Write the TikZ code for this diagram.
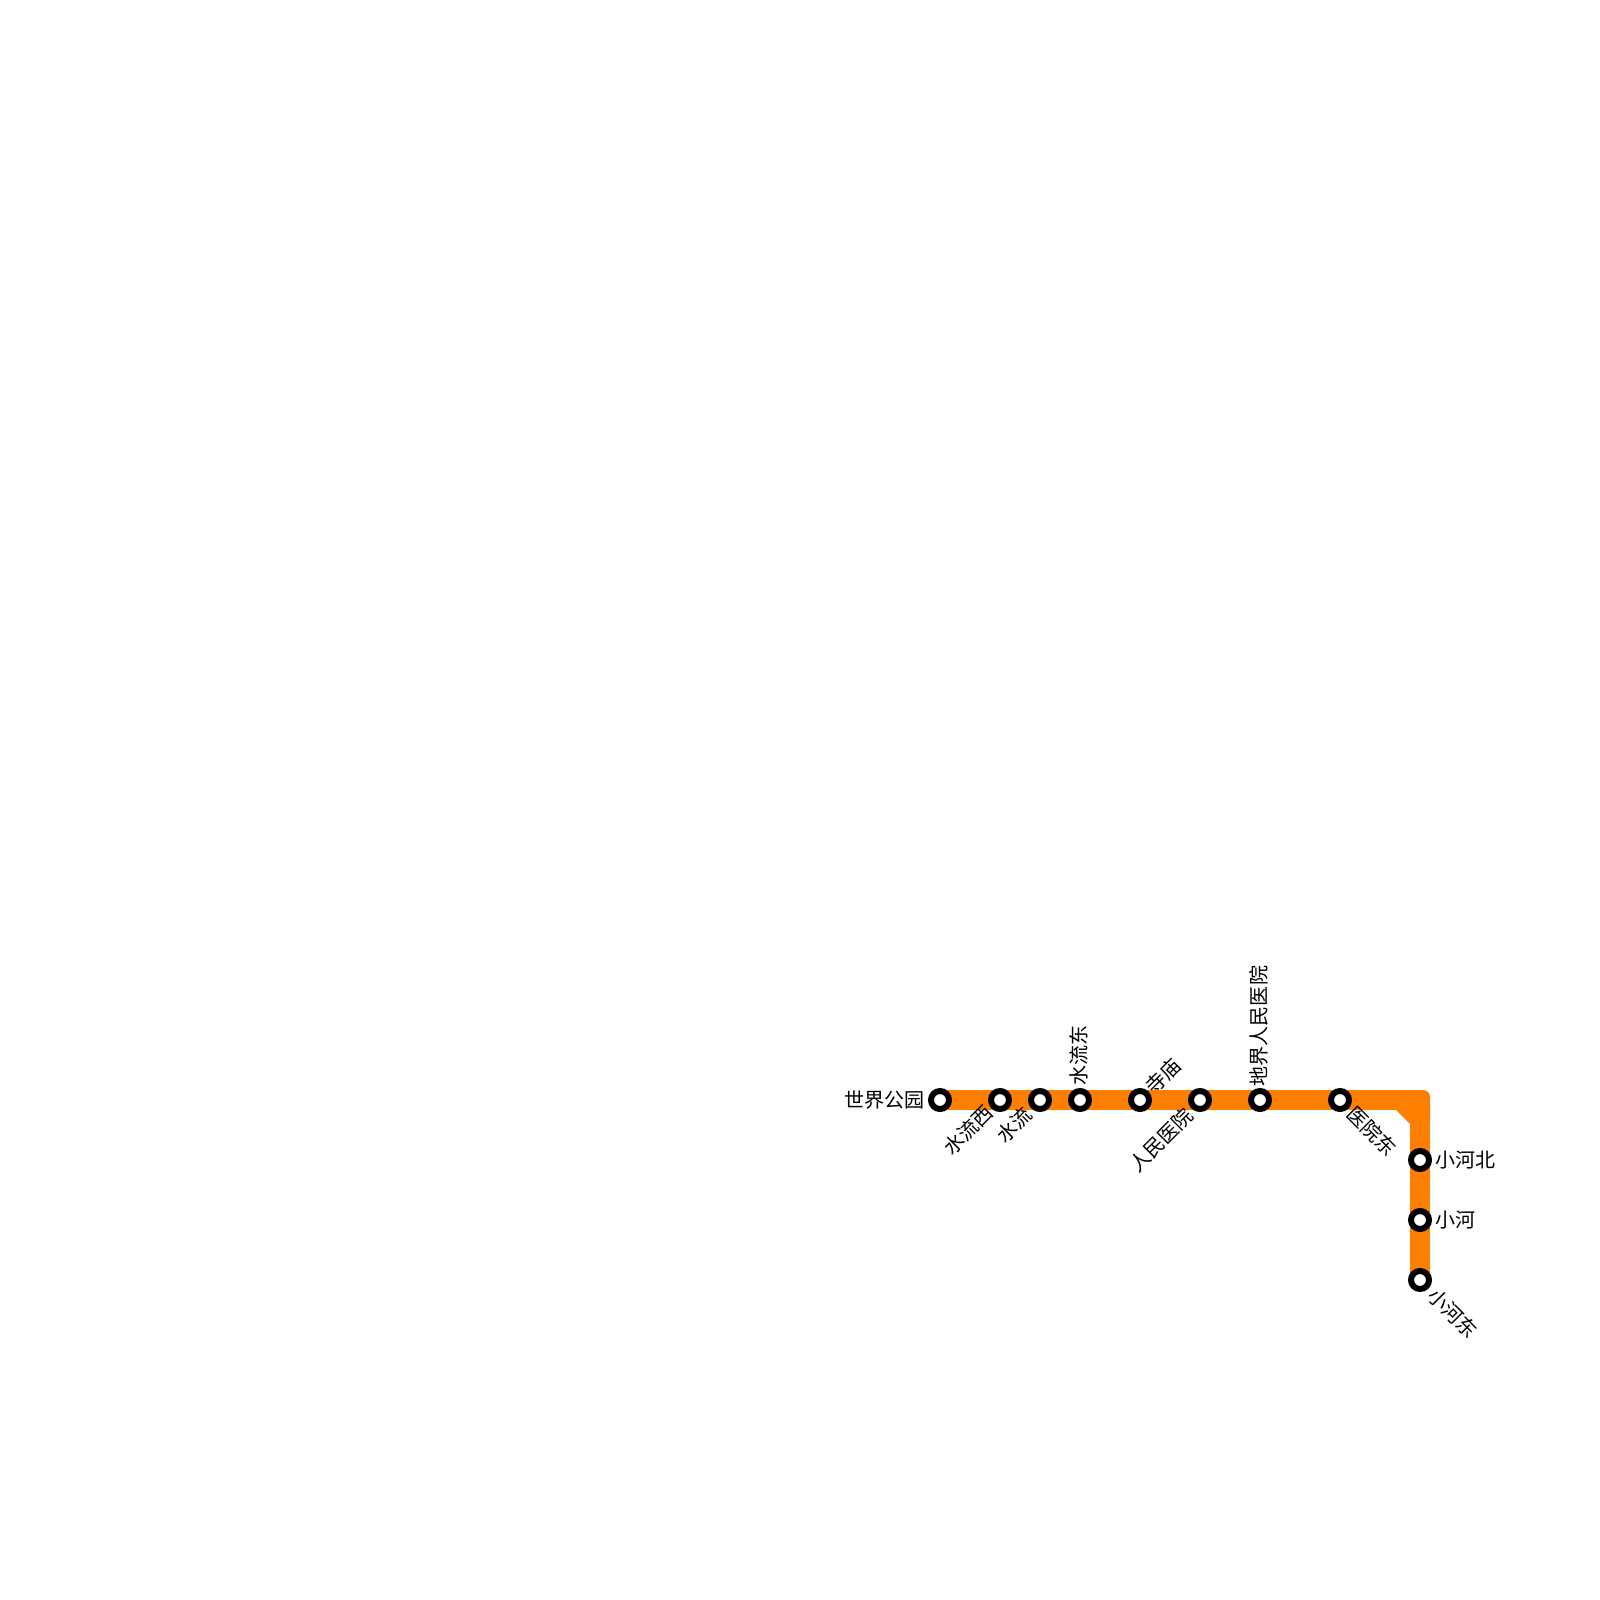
\documentclass[tikz,border=0pt]{standalone}
\usepackage{fontspec}
\usetikzlibrary{backgrounds}
\newfontfamily\cjk{Noto Sans CJK SC}
\newcommand{\halt}[2]{\node[haltmark] (#1) at (#2) {};}
\newcommand{\haltname}[4]{\node[haltlabel,#2] (#1) at (#3) {#4};}

\begin{document}
\begin{tikzpicture}[
      x=0.01cm,y=-0.01cm,
      linepath/.style={line width=0.2cm,draw=lineorange,line join=round},
      linecorner/.style={fill=lineorange},
      haltmark/.style={circle,draw=black,fill=white,line width=0.06cm,minimum size=0.18cm,inner sep=0pt},
      haltlabel/.style={font=\cjk\fontsize{5.69pt}{6pt}\selectfont,inner sep=0pt,text=black}
      ]
      \definecolor{lineorange}{HTML}{FF7F00}
      \useasboundingbox (0,0) rectangle (1600,1600);

      % The halts, left to right along the top, then down the right side
      \halt{shijie}{940,1100}
      \halt{shuixi}{1000,1100}
      \halt{shuiliu}{1040,1100}
      \halt{shuidong}{1080,1100}
      \halt{simiao}{1140,1100}
      \halt{renmin}{1200,1100}
      \halt{dijie}{1260,1100}
      \halt{yidong}{1340,1100}
      \halt{hebei}{1420,1160}
      \halt{xiaohe}{1420,1220}
      \halt{hedong}{1420,1280}
      \coordinate (bend) at (1420,1100);

      % The line goes behind the halts; the second path squares off the bend
      \begin{scope}[on background layer]
        \draw[linepath] (shijie.center) -- (shuixi.center) -- (shuiliu.center) -- (shuidong.center)
          -- (simiao.center) -- (renmin.center) -- (dijie.center) -- (yidong.center)
          -- (bend) -- (hebei.center) -- (xiaohe.center) -- (hedong.center);
        \fill[linecorner] (1396,1110) -- (1396,1090) [rounded corners=0.07cm] -- (1430,1090)
          [sharp corners] -- (1430,1124) -- (1410,1124) -- cycle;
      \end{scope}

      % The names
      \haltname{shijielabel}{anchor=east}{925,1100}{世界公园}
      \haltname{shuixilabel}{rotate=45}{968,1130}{水流西}
      \haltname{shuiliulabel}{rotate=45}{1014,1125}{水流}
      \haltname{shuidonglabel}{rotate=90}{1079,1055}{水流东}
      \haltname{simiaolabel}{rotate=45}{1163,1076}{寺庙}
      \haltname{renminlabel}{rotate=45}{1161,1140}{人民医院}
      \haltname{dijielabel}{rotate=90}{1259,1026}{地界人民医院}
      \haltname{yidonglabel}{rotate=-45}{1372,1131}{医院东}
      \haltname{hebeilabel}{anchor=west}{1435,1160}{小河北}
      \haltname{xiaohelabel}{anchor=west}{1435,1220}{小河}
      \haltname{hedonglabel}{rotate=-45}{1453,1313}{小河东}
    \end{tikzpicture}
\end{document}
